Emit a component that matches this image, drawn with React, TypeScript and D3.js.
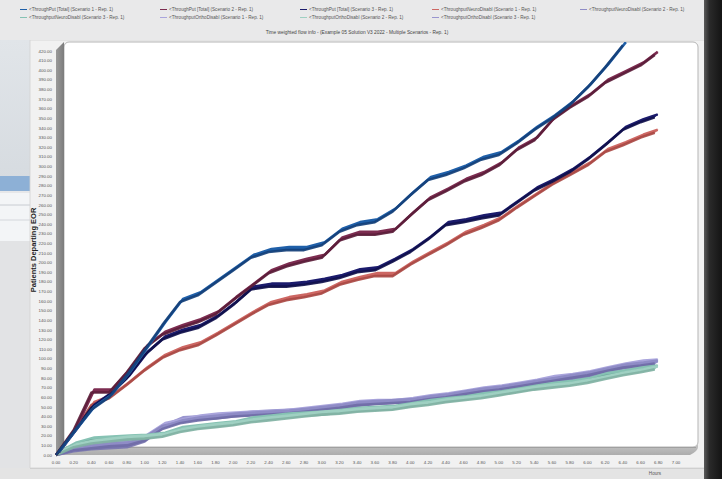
import React from "react";
import * as d3 from "d3";

const W = 722;
const H = 479;

const times = [0, 0.2, 0.4, 0.6, 0.8, 1.0, 1.2, 1.4, 1.6, 1.8, 2.0, 2.2, 2.4, 2.6, 2.8, 3.0, 3.2, 3.4, 3.6, 3.8, 4.0, 4.2, 4.4, 4.6, 4.8, 5.0, 5.2, 5.4, 5.6, 5.8, 6.0, 6.2, 6.4, 6.6, 6.76];

const totalS1 = [0, 24, 47, 60, 83, 109, 135, 159, 166, 179, 192, 205, 211, 213, 213, 218, 232, 239, 242, 253, 270, 286, 291, 298, 307, 312, 324, 338, 350, 364, 382, 403, 426];
const totalS2 = [0, 26, 65, 65, 86, 111, 125, 132, 138, 146, 161, 175, 189, 196, 201, 205, 223, 229, 229, 232, 249, 265, 274, 284, 291, 301, 317, 327, 348, 361, 372, 387, 396, 405, 416];
const totalS3 = [0, 24, 49, 62, 80, 104, 120, 127, 132, 142, 156, 172, 175, 175, 177, 180, 184, 190, 192, 201, 211, 224, 239, 242, 246, 249, 262, 275, 284, 294, 307, 322, 338, 346, 351];
const neuroS1 = [0, 24, 52, 59, 73, 88, 101, 109, 114, 124, 135, 146, 156, 161, 164, 168, 177, 182, 186, 186, 198, 208, 218, 229, 236, 244, 257, 269, 281, 291, 301, 315, 322, 330, 335];
const neuroS2 = [0, 4, 6, 7, 8, 14, 28, 36, 37, 38, 40, 42, 43, 44, 45, 46, 48, 51, 53, 54, 55, 57, 60, 62, 65, 67, 70, 73, 76, 78, 81, 86, 90, 92, 94];
const neuroS3 = [0, 10, 15, 16, 17, 18, 20, 26, 28, 30, 32, 36, 38, 40, 41, 42, 44, 46, 47, 48, 51, 54, 56, 58, 61, 63, 66, 69, 72, 74, 77, 82, 85, 88, 90];
const orthoS1 = [0, 5, 8, 10, 12, 18, 30, 34, 38, 40, 41, 42, 42, 44, 46, 48, 50, 53, 54, 54, 56, 59, 61, 64, 67, 69, 72, 75, 79, 81, 84, 88, 92, 95, 96];
const orthoS2 = [0, 8, 12, 14, 16, 17, 19, 24, 27, 29, 31, 34, 36, 38, 40, 42, 43, 45, 46, 47, 50, 52, 55, 57, 59, 62, 65, 68, 70, 72, 75, 79, 83, 86, 89];
const orthoS3 = [0, 5, 7, 9, 10, 15, 27, 33, 36, 38, 40, 41, 42, 43, 45, 47, 49, 52, 53, 54, 55, 58, 60, 63, 66, 68, 71, 74, 77, 80, 83, 87, 91, 93, 95];

const seriesNames = [
  "<ThroughPut [Total] (Scenario 1 - Rep. 1)",
  "<ThroughPut [Total] (Scenario 2 - Rep. 1)",
  "<ThroughPut [Total] (Scenario 3 - Rep. 1)",
  "<ThroughputNeuroDisabl (Scenario 1 - Rep. 1)",
  "<ThroughputNeuroDisabl (Scenario 2 - Rep. 1)",
  "<ThroughputNeuroDisabl (Scenario 3 - Rep. 1)",
  "<ThroughputOrthoDisabl (Scenario 1 - Rep. 1)",
  "<ThroughputOrthoDisabl (Scenario 2 - Rep. 1)",
  "<ThroughputOrthoDisabl (Scenario 3 - Rep. 1)",
];
const seriesValues = [totalS1, totalS2, totalS3, neuroS1, orthoS3, neuroS3, orthoS1, orthoS2, neuroS2];
const seriesColors = ["#1f5fa8", "#7c2c50", "#1b1b6c", "#cd6763", "#8f8cc6", "#86c2b3", "#aaa5dc", "#9fd0c2", "#9995cf"];
const seriesEdge = ["#143f78", "#5a1d38", "#10104a", "#a84844", "#6f6ca6", "#66a293", "#8a85bc", "#7fb0a2", "#7975af"];
const drawOrder = [8, 6, 4, 5, 7, 3, 2, 1, 0];

const yTicks = d3.range(0, 421, 10);
const xTicks = d3.range(0, 36).map((i) => i * 0.2);

const title = "Time weighted flow info - (Example 05 Solution V3 2022 - Multiple Scenarios - Rep. 1)";
const yTitle = "Patients Departing EOR";
const xTitle = "Hours";

export default function App() {
  const x = d3.scaleLinear().domain([0, 7]).range([56, 676]);
  const y = d3.scaleLinear().domain([0, 420]).range([455, 51]);
  const dep = 3;
  const font = "'Liberation Sans', Arial, sans-serif";

  const line = d3
    .line<[number, number]>()
    .x((d) => x(d[0]))
    .y((d) => y(d[1]));
  const lineBack = d3
    .line<[number, number]>()
    .x((d) => x(d[0]) + dep)
    .y((d) => y(d[1]) - dep);

  const legendCols = [20, 160, 300, 432, 580];

  return (
    <div style={{ position: "absolute", left: 0, top: 0, width: W, height: H }}>
      <svg width={W} height={H} style={{ display: "block" }}>
        <defs>
          <linearGradient id="rightDark" x1="0" x2="1" y1="0" y2="0">
            <stop offset="0" stopColor="#5a5a5a" />
            <stop offset="0.3" stopColor="#2a2a2a" />
            <stop offset="1" stopColor="#141414" />
          </linearGradient>
          <linearGradient id="wallL" x1="0" x2="1" y1="0" y2="0">
            <stop offset="0" stopColor="#9a9a9a" />
            <stop offset="1" stopColor="#7c7c7c" />
          </linearGradient>
          <linearGradient id="floorG" x1="0" x2="0" y1="0" y2="1">
            <stop offset="0" stopColor="#c9c9c9" />
            <stop offset="1" stopColor="#acacac" />
          </linearGradient>
          <linearGradient id="leftPanel" x1="0" x2="0" y1="0" y2="1">
            <stop offset="0" stopColor="#e1e5e9" />
            <stop offset="1" stopColor="#d6dbe0" />
          </linearGradient>
          <clipPath id="plotClip">
            <rect x={40} y={42} width={660} height={420} />
          </clipPath>
        </defs>
        {/* page background */}
        <rect x={0} y={0} width={W} height={H} fill="#e6e7e9" />
        {/* left screenshot behind */}
        <rect x={0} y={40} width={34} height={140} fill="url(#leftPanel)" />
        <rect x={0} y={176} width={30} height={15} fill="#8db0d6" />
        <rect x={0} y={193} width={30} height={48} fill="#f3f5f7" />
        <line x1={0} x2={30} y1={205} y2={205} stroke="#c8ccd2" strokeWidth={1} />
        <line x1={0} x2={30} y1={220} y2={220} stroke="#d4d7dc" strokeWidth={1} />
        <rect x={0} y={241} width={30} height={230} fill="#e2e3e5" />
        {/* chart window */}
        <rect x={30} y={40} width={675} height={428} fill="#f1f1f1" stroke="#d2d2d2" strokeWidth={0.8} />
        <rect x={0} y={0} width={705} height={40} fill="#e9e9ea" />
        {/* right dark strip */}
        <rect x={704} y={0} width={18} height={H} fill="url(#rightDark)" />
        {/* bottom */}
        <rect x={0} y={468} width={704} height={11} fill="#e4e4e4" />
        <line x1={30} x2={704} y1={468.5} y2={468.5} stroke="#cfcfcf" />

        {/* legend */}
        {seriesNames.map((name, i) => {
          const row = i < 5 ? 0 : 1;
          const col = i < 5 ? i : i - 5;
          const lx = legendCols[col];
          const ly = row === 0 ? 11 : 19;
          return (
            <g key={name}>
              <line x1={lx} x2={lx + 7} y1={ly - 1.5} y2={ly - 1.5} stroke={seriesColors[i]} strokeWidth={1} />
              <text x={lx + 9} y={ly} fontSize={4.6} fill="#555" fontFamily={font}>
                {name}
              </text>
            </g>
          );
        })}
        <text x={357} y={34} textAnchor="middle" fontSize={4.8} fill="#444" fontFamily={font}>
          {title}
        </text>

        {/* 3D plot frame */}
        <rect x={64} y={42} width={634} height={405} rx={5} fill="#ffffff" stroke="#b5b5b5" strokeWidth={1} />
        <polygon points="56,50 64,42 64,447 56,455" fill="url(#wallL)" />
        <path d="M56,455 L64,447 L693,447 Q698,447 698,442 L698,447 Q698,451 690,455 Z" fill="url(#floorG)" />
        <rect x={64} y={447} width={632} height={1} fill="#a0a0a0" />

        {/* y ticks */}
        {yTicks.map((t) => (
          <text key={t} x={52} y={y(t) + 1.6} textAnchor="end" fontSize={4.4} fill="#555" fontFamily={font}>
            {t.toFixed(2)}
          </text>
        ))}
        {/* x ticks */}
        {xTicks.map((t) => (
          <text key={t} x={x(t)} y={464} textAnchor="middle" fontSize={4.4} fill="#555" fontFamily={font}>
            {t.toFixed(2)}
          </text>
        ))}
        <text x={655} y={475} textAnchor="middle" fontSize={4.6} fill="#555" fontFamily={font}>
          {xTitle}
        </text>
        <text
          transform={`translate(36,250) rotate(-90)`}
          textAnchor="middle"
          fontSize={7.5}
          fontWeight="bold"
          fill="#222"
          fontFamily={font}
        >
          {yTitle}
        </text>

        {/* series ribbons */}
        <g clipPath="url(#plotClip)">
          {drawOrder.map((si) => {
            const vals = seriesValues[si];
            const pts: [number, number][] = vals.map((v, k) => [times[k], v]);
            const quads = pts.slice(1).map((p, k) => {
              const a = pts[k];
              return [
                [x(a[0]), y(a[1])],
                [x(p[0]), y(p[1])],
                [x(p[0]) + dep, y(p[1]) - dep],
                [x(a[0]) + dep, y(a[1]) - dep],
              ]
                .map((q) => q.join(","))
                .join(" ");
            });
            return (
              <g key={si}>
                {quads.map((q, k) => (
                  <polygon key={k} points={q} fill={seriesColors[si]} stroke={seriesColors[si]} strokeWidth={0.6} />
                ))}
                <path d={lineBack(pts) || ""} fill="none" stroke={seriesColors[si]} strokeWidth={2.6} strokeLinejoin="round" />
                <path d={line(pts) || ""} fill="none" stroke={seriesEdge[si]} strokeWidth={2.6} strokeLinejoin="round" opacity={0.9} />
              </g>
            );
          })}
        </g>
      </svg>
    </div>
  );
}
